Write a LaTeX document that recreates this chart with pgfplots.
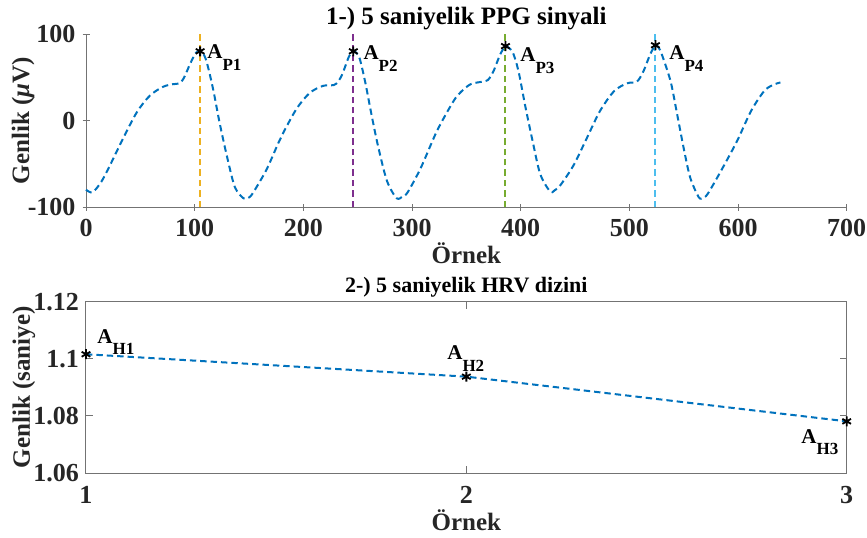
\documentclass[border=0pt]{standalone}
\usepackage{fontspec}
\setmainfont{Liberation Serif}
\usepackage{pgfplots}
\pgfplotsset{compat=1.18}
\definecolor{mblue}{rgb}{0,0.447,0.741}
\definecolor{colA}{rgb}{0.929,0.694,0.125}
\definecolor{colB}{rgb}{0.494,0.184,0.556}
\definecolor{colC}{rgb}{0.466,0.674,0.188}
\definecolor{colD}{rgb}{0.301,0.745,0.933}
\definecolor{mtext}{rgb}{0.15,0.15,0.15}
\newcommand{\lab}[1]{\fontsize{10.5}{10.5}\selectfont\bfseries A\raisebox{-5.8pt}{\fontsize{8.5}{8.5}\selectfont #1}}
\pgfplotstableread{
x y
0 -80
6 -83
14 -71
22 -52
34 -21
47 10
59 29
71 39
80 42
86 43
90 49
96 66
101 78
104 80
107 79
111 68
117 36
123 -3
130 -43
137 -77
145 -90
150 -89
154 -83
166 -57
177 -26
182 -13
194 14
206 32
218 40
228 41
232 45
236 54
242 74
246 80
249 78
252 71
257 44
263 5
269 -31
277 -70
286 -90
292 -87
296 -83
308 -55
323 -12
338 22
345 33
354 42
365 45
370 47
375 57
381 76
386 86
389 84
393 78
398 57
404 18
411 -24
418 -62
427 -82
431 -81
437 -74
449 -51
461 -20
473 11
486 34
498 43
507 45
513 57
519 76
524 87
527 84
530 76
538 45
544 7
550 -32
556 -66
564 -89
568 -89
572 -85
584 -59
599 -24
612 11
624 34
632 41
639 44
}\ppg
\pgfplotstableread{
x y
1 1.1016
2 1.09375
3 1.0781
}\hrv
\pgfplotsset{
  mystyle/.style={
    scale only axis, anchor=south west, width=380.35pt, clip=false,
    tick align=inside, major tick length=3.5pt,
    axis line style={draw=black!55, line width=0.5pt},
    tick style={draw=black!55, line width=0.5pt},
    ticklabel style={font=\fontsize{13}{13}\selectfont\bfseries, text=mtext},
    label style={font=\fontsize{12.5}{12.5}\selectfont\bfseries, text=mtext},
    title style={font=\fontsize{12.5}{12.5}\selectfont\bfseries, text=black},
  },
  sig/.style={mblue, line width=1pt, dash pattern=on 3.2pt off 2pt},
  vl/.style={line width=1pt, dash pattern=on 3.2pt off 2pt},
  star/.style={only marks, mark=asterisk, mark size=2.5pt, black, mark options={line width=0.9pt}},
}
\begin{document}
\begin{tikzpicture}
\path[use as bounding box] (0,0) rectangle (433.5pt,268.5pt);
\begin{axis}[mystyle, at={(43pt,165pt)}, height=86.5pt,
  xmin=0, xmax=700, ymin=-100, ymax=100,
  axis x line=bottom, axis y line=left, axis line style={-},
  xtick={0,100,200,300,400,500,600,700},
  xticklabels={0,100,200,300,400,500,600,700},
  ytick={-100,0,100}, yticklabels={-100,0,100},
  xticklabel style={yshift=-1pt},
  title={1-) 5 saniyelik PPG sinyali},
  title style={at={(axis description cs:0.5,1)}, anchor=base, yshift=-1pt},
  xlabel={Örnek},
  xlabel style={at={(axis description cs:0.5,0)}, anchor=base, yshift=-28pt},
  ylabel={Genlik (\textit{μ}V)},
  ylabel style={at={([xshift=-31.5pt]axis description cs:0,0.5)}, anchor=center},
]
\addplot[sig, smooth, tension=0.5] table[x=x,y=y] {\ppg};
\addplot[vl, colA] coordinates {(105,-100) (105,100)};
\addplot[vl, colB] coordinates {(246,-100) (246,100)};
\addplot[vl, colC] coordinates {(386,-100) (386,100)};
\addplot[vl, colD] coordinates {(524,-100) (524,100)};
\addplot[star] coordinates {(105,80) (246,80) (386,86) (524,87)};
\node[anchor=base west, inner sep=0, text=black] at (axis cs:111.3,71.7) {\lab{P1}};
\node[anchor=base west, inner sep=0, text=black] at (axis cs:255,70.5) {\lab{P2}};
\node[anchor=base west, inner sep=0, text=black] at (axis cs:399.4,68) {\lab{P3}};
\node[anchor=base west, inner sep=0, text=black] at (axis cs:536.5,70.5) {\lab{P4}};
\end{axis}
\begin{axis}[mystyle, at={(43pt,32pt)}, height=85.65pt,
  xmin=1, xmax=3, ymin=1.06, ymax=1.12,
  xtick={1,2,3}, xticklabels={1,2,3},
  ytick={1.06,1.08,1.1,1.12}, yticklabels={1.06,1.08,1.1,1.12},
  xticklabel style={yshift=-3pt},
  title={2-) 5 saniyelik HRV dizini},
  title style={at={(axis description cs:0.5,1)}, anchor=base, yshift=-1.6pt, font=\fontsize{11}{11}\selectfont\bfseries},
  xlabel={Örnek},
  xlabel style={at={(axis description cs:0.5,0)}, anchor=base, yshift=-28.5pt},
  ylabel={Genlik (saniye)},
  ylabel style={at={([xshift=-31pt]axis description cs:0,0.5)}, anchor=center},
]
\addplot[sig] table[x=x,y=y] {\hrv};
\addplot[star] table[x=x,y=y] {\hrv};
\node[anchor=base west, inner sep=0, text=black] at (axis cs:1.029,1.1055) {\lab{H1}};
\node[anchor=base west, inner sep=0, text=black] at (axis cs:1.949,1.0996) {\lab{H2}};
\node[anchor=base west, inner sep=0, text=black] at (axis cs:2.880,1.0705) {\lab{H3}};
\end{axis}
\end{tikzpicture}
\end{document}
